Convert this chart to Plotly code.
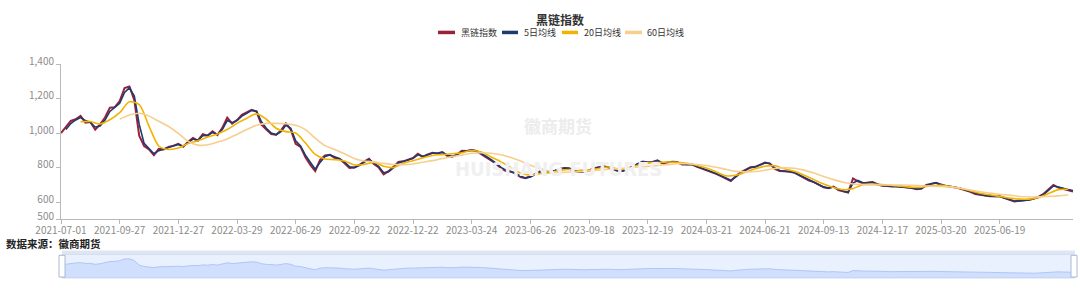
import plotly.graph_objects as go

# ---------------- data ----------------
title_text = "黑链指数"
series_names = ["黑链指数", "5日均线", "20日均线", "60日均线"]
source_text = "数据来源：徽商期货"

# x axis: trading-day number since 2021-07-01, labels every 60 trading days
tick_labels = ["2021-07-01", "2021-09-27", "2021-12-27", "2022-03-29", "2022-06-29",
               "2022-09-22", "2022-12-22", "2023-03-24", "2023-06-26", "2023-09-18",
               "2023-12-19", "2024-03-21", "2024-06-21", "2024-09-13", "2024-12-17",
               "2025-03-20", "2025-06-19"]
tick_every = 60
y_ticks = [500, 600, 800, 1000, 1200, 1400]

# index, sampled every 5 trading days from day 0
index_values = [
    1000, 1032, 1070, 1080, 1099, 1060, 1064, 1020, 1050, 1090,
    1147, 1150, 1185, 1261, 1270, 1190, 985, 925, 905, 872,
    908, 905, 920, 927, 937, 920, 950, 971, 956, 994,
    985, 1010, 988, 1030, 1090, 1055, 1075, 1105, 1118, 1135,
    1124, 1048, 1020, 994, 990, 1015, 1056, 1020, 937, 920,
    860, 815, 780, 845, 870, 874, 855, 850, 825, 798,
    800, 815, 835, 851, 820, 800, 760, 779, 804, 833,
    836, 847, 855, 880, 862, 876, 886, 882, 890, 868,
    863, 875, 897, 896, 902, 895, 878, 860, 840, 822,
    795, 780, 776, 765, 745, 738, 748, 765, 778, 776,
    777, 782, 792, 798, 794, 780, 775, 776, 783, 796,
    802, 808, 800, 788, 778, 781, 795, 810, 825, 835,
    829, 832, 842, 824, 830, 834, 832, 818, 818, 818,
    805, 795, 785, 772, 763, 750, 738, 722, 750, 772,
    787, 802, 804, 818, 829, 823, 792, 780, 778, 777,
    770, 754, 740, 725, 716, 698, 685, 680, 690, 670,
    661, 655, 737, 720, 709, 712, 716, 702, 694, 693,
    690, 693, 690, 687, 681, 675, 678, 700, 708, 712,
    698, 692, 689, 685, 678, 668, 659, 647, 642, 636,
    633, 633, 633, 623, 613, 604, 607, 610, 613, 621,
    631, 648, 676, 699, 684, 676, 672, 661]
index_start, index_step = 0, 5

# 5-day average, every 5 trading days from day 5
ma5_values = [
    1020, 1055, 1076, 1090, 1072, 1062, 1035, 1040, 1075,
    1125, 1148, 1172, 1235, 1262, 1215, 1050, 940, 910, 880,
    898, 905, 916, 925, 934, 924, 944, 965, 958, 985,
    986, 1003, 992, 1020, 1072, 1060, 1072, 1098, 1114, 1131,
    1126, 1065, 1028, 1000, 990, 1008, 1045, 1028, 955, 925,
    872, 828, 790, 830, 864, 873, 860, 851, 832, 805,
    800, 811, 830, 847, 827, 805, 770, 775, 798, 826,
    835, 845, 853, 874, 865, 873, 884, 883, 888, 873,
    864, 872, 892, 896, 901, 897, 882, 864, 845, 826,
    801, 784, 777, 767, 750, 740, 746, 761, 775, 776,
    777, 781, 790, 797, 795, 783, 776, 776, 782, 793,
    801, 806, 802, 791, 780, 780, 792, 806, 822, 833,
    830, 832, 840, 828, 829, 833, 832, 821, 818, 818,
    808, 798, 788, 775, 765, 753, 741, 726, 744, 767,
    784, 799, 803, 815, 827, 824, 798, 783, 779, 777,
    771, 757, 743, 729, 718, 701, 688, 681, 688, 674,
    663, 657, 710, 725, 712, 712, 715, 705, 696, 693,
    691, 692, 690, 688, 682, 677, 677, 695, 706, 711,
    701, 694, 690, 686, 680, 670, 661, 650, 644, 638,
    634, 633, 633, 625, 615, 606, 607, 609, 612, 619,
    628, 644, 670, 693, 687, 678, 673, 667]
ma5_start, ma5_step = 5, 5

# 20-day average, every 10 trading days from day 20
ma20_values = [
    1065, 1067, 1052, 1077, 1118, 1181, 1165, 1040, 925, 905,
    913, 940, 955, 977, 995, 1020, 1056, 1086, 1111, 1080,
    1028, 1008, 1000, 942, 876, 850, 846, 838, 815, 818,
    830, 808, 800, 825, 840, 856, 870, 875, 880, 886,
    899, 890, 861, 833, 800, 768, 756, 765, 770, 783,
    789, 785, 785, 794, 803, 791, 793, 813, 827, 829,
    832, 830, 825, 813, 797, 775, 752, 755, 773, 793,
    808, 810, 793, 778, 756, 730, 705, 685, 672, 678,
    701, 705, 702, 696, 692, 686, 686, 694, 697, 690,
    679, 666, 651, 642, 633, 623, 617, 617, 626, 649,
    672, 674]
ma20_start, ma20_step = 20, 10

# 60-day average, every 10 trading days from day 60
ma60_values = [
    1080, 1104, 1115, 1098, 1068, 1038, 998, 952, 930, 932,
    948, 966, 992, 1020, 1045, 1056, 1056, 1054, 1045, 1020,
    970, 927, 905, 880, 853, 838, 833, 824, 818, 817,
    821, 831, 840, 852, 864, 872, 883, 886, 883, 874,
    858, 838, 814, 795, 779, 772, 774, 776, 780, 785,
    790, 794, 798, 803, 807, 812, 817, 822, 822, 818,
    812, 802, 790, 778, 775, 777, 784, 794, 798, 796,
    785, 768, 748, 730, 715, 705, 701, 699, 699, 699,
    699, 697, 694, 692, 690, 688, 680, 670, 660, 652,
    645, 640, 632, 629, 630, 633, 636, 641]
ma60_start, ma60_step = 60, 10

# ---------------- styling ----------------
W, H = 1080, 289
M_L, M_R, M_T, M_B = 61, 7, 64, 8
PW, PH = W - M_L - M_R, H - M_T - M_B

def px_x(p):
    return (p - M_L) / PW

def px_y(p):
    return 1 - (p - M_T) / PH

colors = ["#9a2236", "#1e3a72", "#f2b300", "#f6cf8f"]
widths = [2.0, 1.6, 1.6, 1.6]
FONT = "Noto Sans CJK SC, Noto Sans, sans-serif"
TICK_COLOR = "#8c8c8c"
AXIS_COLOR = "#b8b8b8"

def days(start, step, vals):
    return [start + k * step for k in range(len(vals))]

all_days = days(index_start, index_step, index_values)
x_max = all_days[-1]

fig = go.Figure()
series = [(index_values, index_start, index_step, "linear"),
          (ma5_values, ma5_start, ma5_step, "linear"),
          (ma20_values, ma20_start, ma20_step, "spline"),
          (ma60_values, ma60_start, ma60_step, "spline")]
for (vals, st, sp, shp), name, c, w in zip(series, series_names, colors, widths):
    fig.add_trace(go.Scatter(
        x=days(st, sp, vals), y=vals, name=name, mode="lines",
        line=dict(color=c, width=w, shape=shp, smoothing=0.8),
        showlegend=False, xaxis="x", yaxis="y"))

# slider mini chart (data-zoom look)
fig.add_trace(go.Scatter(
    x=all_days, y=index_values, mode="lines", fill="tozeroy",
    line=dict(color="#9db8ee", width=0.7),
    fillcolor="rgba(143,176,247,0.28)", showlegend=False,
    hoverinfo="skip", xaxis="x2", yaxis="y2"))

slider_top, slider_bot = 257, 281
span = max(index_values) - min(index_values)
slider_range = [min(index_values) - 0.3 * span, max(index_values) + 0.3 * span]

fig.update_layout(
    width=W, height=H,
    margin=dict(l=M_L, r=M_R, t=M_T, b=M_B, pad=0),
    paper_bgcolor="white", plot_bgcolor="white",
    font=dict(family=FONT, size=10, color=TICK_COLOR),
    xaxis=dict(range=[0, x_max], domain=[0, 1], anchor="y",
               tickmode="array",
               tickvals=[k * tick_every for k in range(len(tick_labels))],
               ticktext=tick_labels,
               ticks="outside", ticklen=4, tickcolor=AXIS_COLOR,
               ticklabelstandoff=-2,
               showline=True, linecolor=AXIS_COLOR, linewidth=1,
               showgrid=False, zeroline=False,
               tickfont=dict(size=10, color=TICK_COLOR)),
    yaxis=dict(range=[500, 1400], domain=[px_y(221.5), 1], anchor="x",
               tickmode="array", tickvals=y_ticks,
               ticktext=[f"{v:,}" for v in y_ticks],
               ticks="outside", ticklen=4, tickcolor=AXIS_COLOR,
               ticklabelshift=-3,
               showline=True, linecolor=AXIS_COLOR, linewidth=1,
               showgrid=False, zeroline=False,
               tickfont=dict(size=10, color=TICK_COLOR)),
    xaxis2=dict(range=[0, x_max], domain=[0, 1], anchor="y2", visible=False),
    yaxis2=dict(range=slider_range, domain=[px_y(slider_bot), px_y(slider_top)],
                anchor="x2", visible=False),
    hovermode=False,
)

shapes = []
# slider body, border and move bar
shapes.append(dict(type="rect", xref="paper", yref="paper",
                   x0=px_x(62), x1=px_x(1075), y0=px_y(slider_bot), y1=px_y(slider_top),
                   fillcolor="rgba(135,175,255,0.18)", line=dict(color="#d2dbee", width=1),
                   layer="below"))
shapes.append(dict(type="rect", xref="paper", yref="paper",
                   x0=px_x(62), x1=px_x(1075), y0=px_y(slider_top), y1=px_y(253),
                   fillcolor="rgba(210,219,238,0.7)", line=dict(width=0)))
for hx in (62, 1074):
    shapes.append(dict(type="rect", xref="paper", yref="paper",
                       x0=px_x(hx - 3), x1=px_x(hx + 3), y0=px_y(280), y1=px_y(258),
                       fillcolor="white", line=dict(color="#acb8d1", width=1)))

# legend (line swatches)
legend_sw = [(438, 455), (502, 518), (562, 578), (625, 642)]
legend_tx = [459, 522, 582, 645]
ly = 32
annotations = []
for (a, b), tx, c, name in zip(legend_sw, legend_tx, colors, series_names):
    shapes.append(dict(type="line", xref="paper", yref="paper",
                       x0=px_x(a), x1=px_x(b), y0=px_y(ly), y1=px_y(ly),
                       line=dict(color=c, width=3.5)))
    annotations.append(dict(text=name, xref="paper", yref="paper",
                            x=px_x(tx), y=px_y(ly), xanchor="left", yanchor="middle",
                            showarrow=False, font=dict(size=9, color="#333333")))

annotations.append(dict(text="<b>" + title_text + "</b>", xref="paper", yref="paper",
                        x=px_x(559.5), y=px_y(18.5), xanchor="center", yanchor="middle",
                        showarrow=False, font=dict(size=12, color="#333333")))
annotations.append(dict(text="<b>" + source_text + "</b>", xref="paper", yref="paper",
                        x=px_x(5), y=px_y(246.5), xanchor="left", yanchor="middle",
                        showarrow=False, borderpad=0,
                        font=dict(size=10.5, color="#222222")))
# faint watermarks
annotations.append(dict(text="<b>徽商期货</b>", xref="paper", yref="paper",
                        x=px_x(558), y=px_y(126), xanchor="center", yanchor="middle",
                        showarrow=False, font=dict(size=17, color="#ececec")))
annotations.append(dict(text="<b>HUISHANG FUTURES</b>", xref="paper", yref="paper",
                        x=px_x(558), y=px_y(170), xanchor="center", yanchor="middle",
                        showarrow=False,
                        font=dict(size=20, color="#f0f0f0",
                                  family="Liberation Sans Narrow, DejaVu Sans Condensed, sans-serif")))

fig.update_layout(shapes=shapes, annotations=annotations)
fig.write_html("out.html")
